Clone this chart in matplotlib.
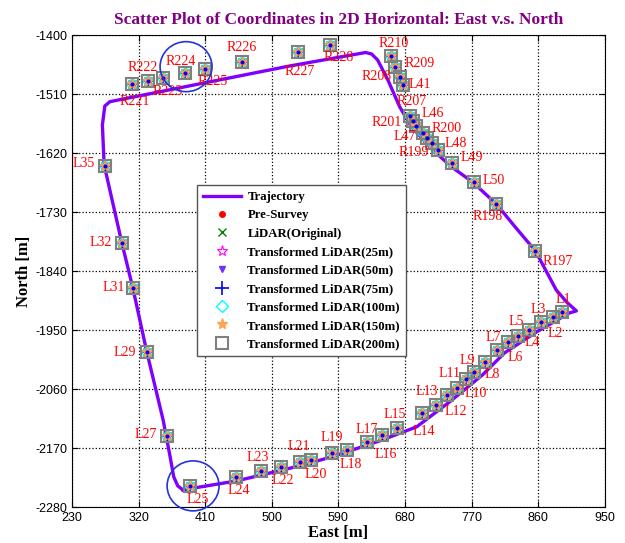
import matplotlib
matplotlib.use('Agg')
import matplotlib.pyplot as plt
from matplotlib.patches import Ellipse

plt.rcParams['axes.unicode_minus'] = False

# Survey point names and coordinates (East, North) in metres
names = ['R221', 'R222', 'R223', 'R224', 'R225', 'R226', 'R227', 'R228',
         'R210', 'R209', 'R208', 'L41', 'R207', 'L46', 'R201', 'R200',
         'L47', 'R199', 'L48', 'L49', 'L50', 'R198', 'R197',
         'L1', 'L2', 'L3', 'L4', 'L5', 'L6', 'L7', 'L8', 'L9', 'L10',
         'L11', 'L12', 'L13', 'L14', 'L15', 'L16', 'L17', 'L18', 'L19',
         'L20', 'L21', 'L22', 'L23', 'L24', 'L25', 'L27', 'L29', 'L31',
         'L32', 'L35']
east = [310.6, 333.0, 353.2, 382.5, 409.5, 459.8, 535.4, 579.1,
        661.4, 665.9, 672.6, 677.1, 686.1, 690.1, 694.2, 704.1,
        709.0, 715.8, 724.3, 743.7, 772.5, 803.1, 856.1,
        892.1, 879.4, 863.8, 846.7, 832.2, 818.7, 804.4, 787.3, 772.5, 762.6,
        749.9, 736.4, 721.2, 703.2, 669.5, 649.0, 628.1, 601.5, 581.3,
        553.5, 537.7, 513.0, 486.0, 452.2, 389.2, 358.6, 331.6, 312.7,
        297.9, 274.5]
north = [-1491.4, -1484.6, -1479.0, -1469.7, -1463.4, -1450.3, -1431.7, -1418.1,
         -1438.6, -1459.7, -1477.2, -1492.7, -1550.5, -1559.8, -1569.1, -1582.7,
         -1591.5, -1600.8, -1613.8, -1638.6, -1674.1, -1714.5, -1801.6,
         -1915.3, -1924.6, -1934.0, -1949.4, -1960.6, -1971.3, -1986.7, -2009.7, -2028.3, -2041.4,
         -2057.0, -2070.6, -2089.3, -2104.7, -2131.6, -2145.8, -2157.7, -2173.2, -2179.3,
         -2191.8, -2196.1, -2204.3, -2211.8, -2223.0, -2240.3, -2147.1, -1991.0, -1871.7,
         -1787.8, -1643.1]

# Vehicle trajectory (closed loop)
traj_east = [379.8, 452.7, 537.7, 580.8, 645.6, 695.5, 740.1, 784.6, 814.3, 857.5,
             902.0, 911.4, 899.3, 884.1, 856.1, 830.1, 803.1, 771.5, 742.4, 717.5,
             688.4, 672.6, 656.8, 642.9, 634.8, 626.7, 524.2, 281.3, 274.5, 271.2,
             273.6, 297.5, 312.3, 331.2, 353.2, 362.2, 367.6, 373.0, 379.8]
traj_north = [-2247.7, -2231.0, -2203.0, -2186.2, -2156.4, -2130.3, -2083.7, -2033.3, -1992.3, -1953.2,
              -1917.8, -1914.0, -1899.1, -1874.9, -1802.2, -1759.8, -1714.5, -1674.1, -1645.0, -1613.9,
              -1570.4, -1533.1, -1483.3, -1446.0, -1434.9, -1432.1, -1457.2, -1523.8, -1531.8, -1567.2,
              -1641.8, -1787.2, -1871.1, -1990.5, -2117.2, -2182.5, -2223.5, -2240.3, -2247.7]

# highlighted areas (centre east, centre north)
circle_east = [384.2, 393.7]
circle_north = [-1458.5, -2240.3]

# label offsets in pixels (dx, dy up) - layout only
offsets = [(3, -17), (-5, 13), (5, -14), (-4, 11), (8, -12), (0, 15), (2, -19), (8, -12),
           (2, 12), (25, 4), (-23, 0), (17, 1), (2, 14), (20, 7), (-29, 3), (24, 5),
           (-22, 1), (-18, -10), (18, 6), (20, 6), (20, 2), (-9, -13), (22, -11),
           (1, 12), (3, -17), (-3, 12), (4, -13), (-2, 14), (7, -16), (-4, 12), (8, -12), (-6, 12), (9, -14),
           (-7, 14), (9, -17), (-9, 13), (2, -18), (-3, 13), (4, -19), (0, 12), (4, -15), (0, 16),
           (4, -15), (-1, 16), (1, -14), (-4, 13), (2, -14), (8, -14), (-21, 1), (-22, 0), (-19, 1),
           (-21, 1), (-21, 2)]

fig = plt.figure(figsize=(6.25, 5.43), dpi=100)
ax = fig.add_axes([0.115, 0.066, 0.853, 0.869])

ax.plot(traj_east, traj_north, color='#7F00FF', lw=2.4, label='Trajectory', zorder=2)

ax.plot(east, north, ls='none', marker='o', ms=4, color='red', label='Pre-Survey', zorder=3)
ax.plot(east, north, ls='none', marker='x', ms=6, mew=1, color='green', label='LiDAR(Original)', zorder=3)
ax.plot(east, north, ls='none', marker='*', ms=8, mew=0.8, color='magenta', mfc='none',
        label='Transformed LiDAR(25m)', zorder=3)
ax.plot(east, north, ls='none', marker='v', ms=4, color='#7030FF', label='Transformed LiDAR(50m)', zorder=3)
ax.plot(east, north, ls='none', marker='+', ms=10, mew=1.2, color='blue', label='Transformed LiDAR(75m)', zorder=4)
ax.plot(east, north, ls='none', marker='D', ms=6, mew=1, color='cyan', mfc='none',
        label='Transformed LiDAR(100m)', zorder=4)
ax.plot(east, north, ls='none', marker='*', ms=8, mew=1, color='#FFA050', mfc='#FFA860',
        label='Transformed LiDAR(150m)', zorder=4)
ax.plot(east, north, ls='none', marker='s', ms=8, mew=1.5, color='#808080', mfc='none',
        label='Transformed LiDAR(200m)', zorder=5)
# blue centre dots
ax.plot(east, north, ls='none', marker='o', ms=2, color='blue', zorder=6)

for n, x, y, (dx, dy) in zip(names, east, north, offsets):
    ax.annotate(n, (x, y), xytext=(dx, dy), textcoords='offset pixels', ha='center', va='center',
                color='red', fontsize=10, family='Liberation Serif', zorder=7)

# circles drawn round in screen space: 26 px radius
px_x = 90 / 66.7
px_y = 110 / 59.0
for cx, cy in zip(circle_east, circle_north):
    ax.add_patch(Ellipse((cx, cy), 2 * 26 * px_x, 2 * 25 * px_y, fill=False,
                         edgecolor='#2233DD', lw=1.2, clip_on=False, zorder=8))

ax.set_xlim(230, 950)
ax.set_ylim(-2280, -1400)
ax.set_xticks(range(230, 951, 90))
ax.set_yticks(range(-2280, -1399, 110))
ax.grid(True, ls=':', color='black', lw=0.9)
ax.tick_params(direction='in', top=True, right=True, labelsize=9, length=4)
for lbl in ax.get_xticklabels() + ax.get_yticklabels():
    lbl.set_family('Liberation Sans')

ax.set_xlabel('East [m]', fontsize=12, fontweight='bold', family='Liberation Serif', labelpad=1)
ax.set_ylabel('North [m]', fontsize=12, fontweight='bold', family='Liberation Serif', labelpad=2)
ax.set_title('Scatter Plot of Coordinates in 2D Horizontal: East v.s. North', fontsize=12.5,
             fontweight='bold', family='Liberation Serif', color='#800080', pad=8)

leg = ax.legend(loc='upper left', bbox_to_anchor=(0.2345, 0.682), borderaxespad=0,
                prop={'family': 'Liberation Serif', 'weight': 'bold', 'size': 9.2},
                fancybox=False, edgecolor='#555555', framealpha=1, handlelength=3.0,
                handletextpad=0.5, labelspacing=0.5, borderpad=0.45)
leg.set_zorder(10)
leg.get_frame().set_linewidth(1)

fig.savefig('out.png', dpi=100)
